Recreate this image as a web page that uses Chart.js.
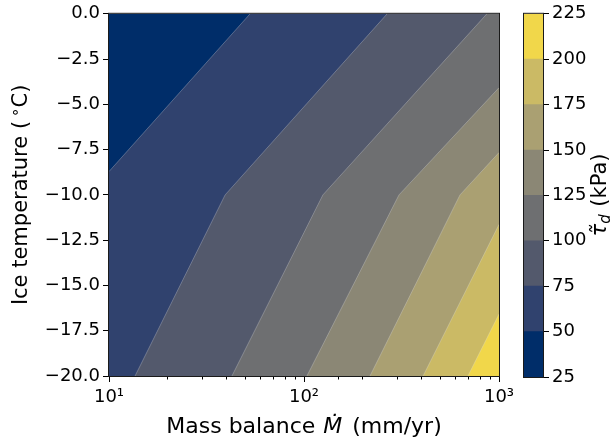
<!DOCTYPE html>
<html>
<head>
<meta charset="utf-8">
<script src="https://cdn.jsdelivr.net/npm/chart.js@4.4.0/dist/chart.umd.min.js"></script>
<style>
  html, body { margin: 0; padding: 0; background: #fff; }
  #wrap { position: relative; width: 614px; height: 443px; overflow: hidden; }
  #contour { position: absolute; left: 0; top: 0; }
  #cbar { position: absolute; left: 505px; top: 0; }
</style>
</head>
<body>
<div id="wrap">
  <canvas id="contour" width="530" height="443"></canvas>
  <canvas id="cbar" width="109" height="443"></canvas>
</div>
<script>
// contour levels of tau_d (kPa) and the band colours (cividis)
const levels = [25, 50, 75, 100, 125, 150, 175, 200, 225];
const bandColors = ['#002d69', '#30426e', '#53596c', '#6e6f71', '#8b8775', '#aaa072', '#cbba65', '#f1d74a'];

// axes
const massRange = [10, 1000];   // mm/yr
const tempRange = [-20, 0];     // deg C
const tempTicks = [0, -2.5, -5, -7.5, -10, -12.5, -15, -17.5, -20];
const massLabels = ['10¹', '10²', '10³'];

// contour lines as [M (mm/yr), T (°C)], upper end first
const line50  = [[52.9, 0], [10, -8.71]];
const line75  = [[267, 0], [39.4, -10], [13.6, -20]];
const line100 = [[867, 0], [125, -10], [42.7, -20]];
const line125 = [[1000, -4.08], [307, -10], [103.5, -20]];
const line150 = [[1000, -7.66], [631, -10], [218, -20]];
const line175 = [[1000, -11.63], [408, -20]];
const line200 = [[1000, -16.58], [693, -20]];
const contourLines = [line50, line75, line100, line125, line150, line175, line200];

const FONT = 'DejaVu Sans';

function toPts(line) {
    return line.map(p => ({ x: p[0], y: p[1] }));
}

// area where tau_d is above a level: the line plus the lower right corners
function regionAbove(line) {
    const pts = toPts(line);
    const first = line[0], last = line[line.length - 1];
    if (last[0] === massRange[0]) pts.push({ x: massRange[0], y: tempRange[0] });
    pts.push({ x: massRange[1], y: tempRange[0] });
    if (first[1] === tempRange[1]) pts.push({ x: massRange[1], y: tempRange[1] });
    return pts;
}

const fullBox = [
    { x: massRange[0], y: tempRange[1] },
    { x: massRange[1], y: tempRange[1] },
    { x: massRange[1], y: tempRange[0] },
    { x: massRange[0], y: tempRange[0] }
];

const common = { showLine: true, pointRadius: 0, pointHoverRadius: 0, tension: 0, clip: 0 };
const datasets = [];
datasets.push(Object.assign({ data: fullBox, backgroundColor: bandColors[0], borderColor: 'transparent', borderWidth: 0, fill: 'shape', order: 30 }, common));
contourLines.forEach((ln, i) => {
    datasets.push(Object.assign({ data: regionAbove(ln), backgroundColor: bandColors[i + 1], borderColor: 'transparent', borderWidth: 0, fill: 'shape', order: 29 - i }, common));
});
// light seams along the contour lines
contourLines.forEach(ln => {
    datasets.push(Object.assign({ data: toPts(ln), borderColor: 'rgba(235,235,235,0.35)', borderWidth: 0.8, fill: false, order: 0 }, common));
});

// draws a row of text pieces centred on (cx, cy)
function drawRuns(ctx, runs, cx, cy, angle) {
    ctx.save();
    ctx.translate(cx, cy);
    ctx.rotate(angle);
    ctx.fillStyle = '#000';
    ctx.textBaseline = 'middle';
    ctx.textAlign = 'left';
    let total = 0;
    const widths = runs.map(r => {
        ctx.font = r.font;
        const w = ctx.measureText(r.text).width + (r.gap || 0);
        total += w;
        return w;
    });
    let x = -total / 2;
    runs.forEach((r, i) => {
        ctx.font = r.font;
        ctx.fillText(r.text, x + (r.gap || 0), r.dy || 0);
        x += widths[i];
    });
    ctx.restore();
}

const framePlugin = {
    id: 'frame',
    afterDatasetsDraw(chart) {
        const a = chart.chartArea;
        const ctx = chart.ctx;
        ctx.save();
        ctx.strokeStyle = '#1a1a1a';
        ctx.lineWidth = 1;
        ctx.strokeRect(a.left - 0.5, a.top - 0.5, a.right - a.left + 1, a.bottom - a.top + 1);
        ctx.restore();
    }
};

const axisLabels = {
    id: 'axisLabels',
    afterDraw(chart) {
        const a = chart.chartArea;
        const ctx = chart.ctx;
        drawRuns(ctx, [
            { text: 'Mass balance ', font: '22px ' + FONT },
            { text: 'Ṁ', font: 'italic 22px ' + FONT, gap: 1 },
            { text: ' (mm/yr)', font: '22px ' + FONT, gap: 3 }
        ], (a.left + a.right) / 2, 427, 0);
        drawRuns(ctx, [
            { text: 'Ice temperature (', font: '21px ' + FONT },
            { text: '∘', font: '15px ' + FONT, dy: -6, gap: 4 },
            { text: 'C)', font: '21px ' + FONT }
        ], 22, (a.top + a.bottom) / 2, -Math.PI / 2);
    }
};

function tempLabel(v) {
    if (v === 0) return '0.0';
    return (v < 0 ? '\u2212' : '') + Math.abs(v).toFixed(1);
}

function isDecade(v) {
    const e = Math.log10(v);
    return Math.abs(e - Math.round(e)) < 1e-9;
}

new Chart(document.getElementById('contour'), {
    type: 'scatter',
    data: { datasets: datasets },
    options: {
        responsive: false,
        animation: false,
        events: [],
        layout: { padding: { left: 0, top: 13, right: 31, bottom: 0 } },
        plugins: { legend: { display: false }, tooltip: { enabled: false } },
        scales: {
            x: {
                type: 'logarithmic',
                min: massRange[0],
                max: massRange[1],
                position: 'bottom',
                ticks: {
                    autoSkip: false,
                    maxRotation: 0,
                    color: '#000',
                    padding: 5,
                    font: { family: FONT, size: 18 },
                    callback: v => isDecade(v) ? massLabels[Math.round(Math.log10(v)) - 1] : ''
                },
                grid: {
                    drawOnChartArea: false,
                    tickLength: 6,
                    tickColor: '#000',
                    tickWidth: 1,
                    tickBorderDash: c => (c.tick && isDecade(c.tick.value)) ? [] : [3.5, 20]
                },
                border: { display: false },
                afterFit: s => { s.height = 67; }
            },
            y: {
                type: 'linear',
                min: tempRange[0],
                max: tempRange[1],
                afterBuildTicks: s => { s.ticks = tempTicks.map(v => ({ value: v })); },
                ticks: {
                    color: '#000',
                    padding: 3,
                    font: { family: FONT, size: 18 },
                    callback: v => tempLabel(v)
                },
                grid: { drawOnChartArea: false, tickLength: 6, tickColor: '#000', tickWidth: 1 },
                border: { display: false },
                afterFit: s => { s.width = 109; }
            }
        }
    },
    plugins: [framePlugin, axisLabels]
});

// colour bar
const cbarLabel = {
    id: 'cbarLabel',
    afterDraw(chart) {
        drawRuns(chart.ctx, [
            { text: 'τ\u0303', font: 'italic 21px ' + FONT },
            { text: 'd', font: 'italic 15px ' + FONT, dy: 5 },
            { text: ' (kPa)', font: '21px ' + FONT, gap: 1 }
        ], 96, 195, -Math.PI / 2);
    }
};

new Chart(document.getElementById('cbar'), {
    type: 'bar',
    data: {
        labels: [''],
        datasets: bandColors.map((c, i) => ({
            data: [[levels[i], levels[i + 1]]],
            backgroundColor: c,
            borderWidth: 0,
            barPercentage: 1,
            categoryPercentage: 1
        }))
    },
    options: {
        responsive: false,
        animation: false,
        events: [],
        layout: { padding: { left: 19, top: 13, right: 0, bottom: 66 } },
        plugins: { legend: { display: false }, tooltip: { enabled: false } },
        scales: {
            x: { display: false, stacked: true },
            y: {
                position: 'right',
                min: levels[0],
                max: levels[levels.length - 1],
                afterBuildTicks: s => { s.ticks = levels.map(v => ({ value: v })); },
                ticks: { color: '#000', padding: 3, font: { family: FONT, size: 18 } },
                grid: { drawOnChartArea: false, tickLength: 6, tickColor: '#000', tickWidth: 1 },
                border: { display: false },
                afterFit: s => { s.width = 71; }
            }
        }
    },
    plugins: [framePlugin, cbarLabel]
});
</script>
</body>
</html>
